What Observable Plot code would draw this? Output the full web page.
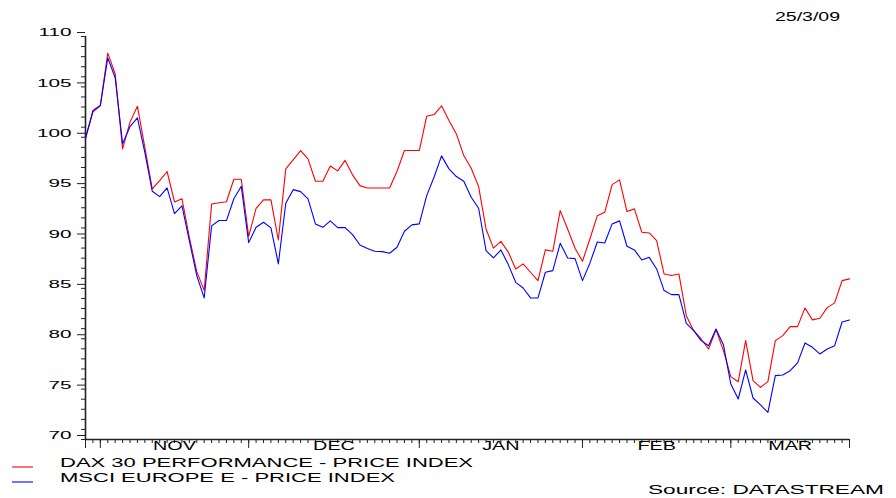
<!DOCTYPE html>
<html><head><meta charset="utf-8">
<script src="https://cdn.jsdelivr.net/npm/d3@7"></script>
<script src="https://cdn.jsdelivr.net/npm/@observablehq/plot@0.6"></script>
<style>html,body{margin:0;padding:0;background:#fff;} svg{display:block;}</style>
</head><body><div id="chart"></div>
<script>
// ---- data ----
const startDate = "2008-10-30"; // first business day shown
const seriesNames = ["DAX 30 PERFORMANCE - PRICE INDEX", "MSCI EUROPE E - PRICE INDEX"];
const seriesColors = ["#ff0000", "#0000ff"];
const dax = [99.9,102.5,103.15,108.35,106.3,98.85,101.5,103.08,99.0,94.87,
95.7,96.6,93.58,93.9,90.07,86.66,84.8,93.38,93.5,93.6,
95.83,95.83,90.17,92.95,93.78,93.78,89.8,96.86,97.75,98.68,
97.85,95.63,95.63,97.15,96.66,97.7,96.27,95.2,94.97,94.97,
94.97,94.97,96.63,98.68,98.68,98.68,102.09,102.25,103.12,101.66,
100.33,98.18,96.92,95.1,90.9,89.0,89.67,88.6,86.93,87.43,
86.6,85.77,88.82,88.68,92.72,90.9,88.98,87.69,89.9,92.22,
92.55,95.3,95.77,92.62,92.89,90.57,90.5,89.74,86.43,86.27,
86.43,82.29,80.8,79.98,78.98,80.9,78.82,76.24,75.74,79.81,
75.84,75.18,75.74,79.81,80.31,81.2,81.2,83.06,81.87,82.03,
83.09,83.56,85.77,85.94];
const msci = [99.9,102.65,103.15,107.88,105.9,99.34,101.06,101.92,98.5,94.64,
94.11,94.97,92.42,93.2,89.74,86.27,84.05,91.2,91.73,91.73,
93.9,95.13,89.54,91.06,91.56,91.0,87.43,93.45,94.8,94.6,
93.88,91.4,91.06,91.7,91.03,91.03,90.34,89.3,88.95,88.68,
88.65,88.49,89.08,90.67,91.3,91.4,94.21,96.06,98.15,96.86,
96.1,95.63,94.04,92.95,88.75,88.02,88.82,87.36,85.6,85.04,
84.05,84.05,86.6,86.76,89.47,88.02,87.95,85.77,87.5,89.6,
89.51,91.4,91.7,89.18,88.82,87.82,88.08,86.93,84.78,84.38,
84.38,81.53,80.8,79.81,79.31,80.97,79.41,75.51,74.02,76.9,
74.12,73.43,72.7,76.34,76.4,76.83,77.6,79.58,79.15,78.49,
78.98,79.31,81.66,81.87];
const monthLabels = ["NOV", "DEC", "JAN", "FEB", "MAR"];
const yTicks = [70, 75, 80, 85, 90, 95, 100, 105, 110];
const yMinor = d3.range(70, 111, 1);
const dateText = "25/3/09";
const sourceText = "Source: DATASTREAM";

// ---- derived ----
const n = dax.length;
const dates = [];
{
  let d = new Date(startDate + "T00:00:00Z");
  while (dates.length < n) {
    const wd = d.getUTCDay();
    if (wd !== 0 && wd !== 6) dates.push(new Date(d));
    d = new Date(d.getTime() + 86400000);
  }
}
const monthStarts = [];
dates.forEach((dt, i) => { if (i > 0 && dt.getUTCMonth() !== dates[i - 1].getUTCMonth()) monthStarts.push(i); });
const bounds = [...monthStarts, n - 1];
const monthCenters = monthStarts.map((s, k) => (s + bounds[k + 1]) / 2);

const rows = [];
[dax, msci].forEach((arr, k) => arr.forEach((v, i) => rows.push({i, v, s: seriesNames[k]})));

const blank = () => "";
const plot = Plot.plot({
  width: 896, height: 498,
  marginLeft: 85, marginRight: 47, marginTop: 36, marginBottom: 59,
  style: {fontFamily: "'Liberation Sans', Arial, sans-serif", color: "#000", background: "#fff"},
  x: {type: "linear", domain: [0, n - 1]},
  y: {domain: [70, 110]},
  color: {domain: seriesNames, range: seriesColors},
  marks: [
    Plot.axisY({ticks: yMinor, tickSize: 4, tickFormat: blank, label: null, stroke: "#222"}),
    Plot.axisY({ticks: yTicks, tickSize: 8, tickPadding: 6, label: null, fontSize: 11.5, dy: -4, stroke: "#222"}),
    Plot.axisX({ticks: d3.range(0, n), tickSize: 4, tickFormat: blank, label: null, stroke: "#222"}),
    Plot.axisX({ticks: [0, ...monthStarts, n - 1], tickSize: 9, tickFormat: blank, label: null, stroke: "#222"}),
    Plot.axisX({ticks: monthCenters, tickSize: 0, tickPadding: 2, label: null, fontSize: 12,
      tickFormat: d => monthLabels[monthCenters.indexOf(d)]}),
    Plot.ruleX([0], {y1: 70, y2: 110, stroke: "#222", strokeWidth: 1.6}),
    Plot.ruleY([70], {x1: 0, x2: n - 1, stroke: "#222", strokeWidth: 1.6}),
    Plot.line(rows, {x: "i", y: "v", z: "s", stroke: "s", strokeWidth: 1.1})
  ]
});
document.getElementById("chart").appendChild(plot);

const svg = d3.select(plot);
const font = "'Liberation Sans', Arial, sans-serif";
function addText(str, x, y, size, len, anchor) {
  svg.append("text").attr("x", x).attr("y", y).attr("font-size", size)
    .attr("font-family", font).attr("fill", "#000").attr("text-anchor", anchor || "start")
    .attr("textLength", len).attr("lengthAdjust", "spacingAndGlyphs").text(str);
}
// stretch axis labels to the wide Datastream look
svg.selectAll("g[aria-label='y-axis tick label'] text").each(function () {
  const w = this.getComputedTextLength();
  d3.select(this).attr("textLength", w * 1.8).attr("lengthAdjust", "spacingAndGlyphs");
});
svg.selectAll("g[aria-label='x-axis tick label'] text").each(function () {
  const w = this.getComputedTextLength();
  d3.select(this).attr("textLength", w * 1.65).attr("lengthAdjust", "spacingAndGlyphs");
});
addText(dateText, 840, 21, 12, 65, "end");
// legend
seriesNames.forEach((name, k) => {
  const yb = 467 + k * 15;
  svg.append("line").attr("x1", 12).attr("x2", 33).attr("y1", yb).attr("y2", yb)
    .attr("stroke", seriesColors[k]).attr("stroke-width", 1.1);
  addText(name, 60, yb, 13.5, k === 0 ? 413 : 335);
});
addText(sourceText, 884, 494, 13, 236, "end");
</script>
</body></html>
